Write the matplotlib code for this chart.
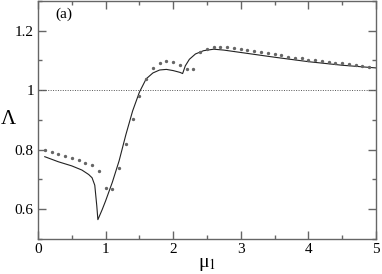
import numpy as np
import matplotlib
matplotlib.use("Agg")
import matplotlib.pyplot as plt
from matplotlib.ticker import MultipleLocator

plt.rcParams.update({
    "font.family": "Liberation Serif",
    "mathtext.fontset": "stix",
    "font.size": 11,
})

# simulation points (dots)
mu_pts = [0.1, 0.2, 0.3, 0.4, 0.5, 0.6, 0.7, 0.8, 0.9, 1.0,
          1.1, 1.2, 1.3, 1.4, 1.5, 1.6, 1.7, 1.8, 1.9, 2.0,
          2.1, 2.2, 2.3, 2.4, 2.5, 2.6, 2.7, 2.8, 2.9, 3.0,
          3.1, 3.2, 3.3, 3.4, 3.5, 3.6, 3.7, 3.8, 3.9, 4.0,
          4.1, 4.2, 4.3, 4.4, 4.5, 4.6, 4.7, 4.8, 4.9]
lam_pts = [0.800, 0.793, 0.785, 0.779, 0.771, 0.764, 0.756, 0.747, 0.729, 0.671,
           0.666, 0.739, 0.818, 0.904, 0.979, 1.036, 1.074, 1.093, 1.098, 1.094,
           1.085, 1.070, 1.073, 1.127, 1.140, 1.147, 1.147, 1.146, 1.142, 1.139,
           1.135, 1.132, 1.128, 1.124, 1.121, 1.118, 1.113, 1.110, 1.107, 1.103,
           1.100, 1.097, 1.095, 1.092, 1.090, 1.087, 1.085, 1.082, 1.079]

# theory curve (solid line)
mu_th = [0.10, 0.30, 0.50, 0.65, 0.75, 0.80, 0.84, 0.87, 0.886, 0.95,
         1.00, 1.10, 1.20, 1.30, 1.40, 1.50, 1.60, 1.70, 1.80, 1.90,
         2.00, 2.10, 2.14, 2.18, 2.24, 2.33, 2.45, 2.60, 2.75, 3.00,
         3.50, 4.00, 4.50, 5.00]
lam_th = [0.776, 0.759, 0.745, 0.731, 0.716, 0.705, 0.680, 0.610, 0.564, 0.598,
          0.627, 0.690, 0.762, 0.850, 0.930, 0.993, 1.038, 1.058, 1.068, 1.070,
          1.066, 1.060, 1.056, 1.082, 1.104, 1.122, 1.133, 1.138, 1.135, 1.127,
          1.111, 1.096, 1.084, 1.075]

fig = plt.figure(figsize=(3.82, 2.74), dpi=100)
ax = fig.add_axes([0.0995, 0.129, 0.8845, 0.867])

ax.axhline(1.0, color="#555555", lw=0.7, ls=(0, (1, 1.5)))
ax.plot(mu_th, lam_th, color="#222222", lw=0.8)
ax.plot(mu_pts, lam_pts, ls="none", marker="o", ms=1.4,
        color="#666666", mec="#666666")

ax.set_xlim(0, 5)
ax.set_ylim(0.5, 1.3)
ax.xaxis.set_major_locator(MultipleLocator(1))
ax.xaxis.set_minor_locator(MultipleLocator(0.5))
ax.yaxis.set_minor_locator(MultipleLocator(0.1))
ax.set_yticks([0.6, 0.8, 1.0, 1.2])
ax.set_yticklabels(["0.6", "0.8", "1", "1.2"])
ax.xaxis.set_major_formatter(plt.FuncFormatter(lambda v, p: f"{v:g}"))

ax.tick_params(which="both", direction="in", top=True, right=True,
               color="#666666", width=1)
ax.tick_params(which="major", length=6, pad=3)
ax.tick_params(which="minor", length=3)
for s in ax.spines.values():
    s.set_color("#666666")
    s.set_linewidth(1.0)

ax.set_xlabel("μ$_1$", fontsize=14, labelpad=0)
ax.set_ylabel("Λ", fontsize=15, rotation=0, labelpad=5, va="center")
ax.text(0.25, 1.254, "(a)", fontsize=11, va="center")

fig.savefig("out.png", dpi=100)
